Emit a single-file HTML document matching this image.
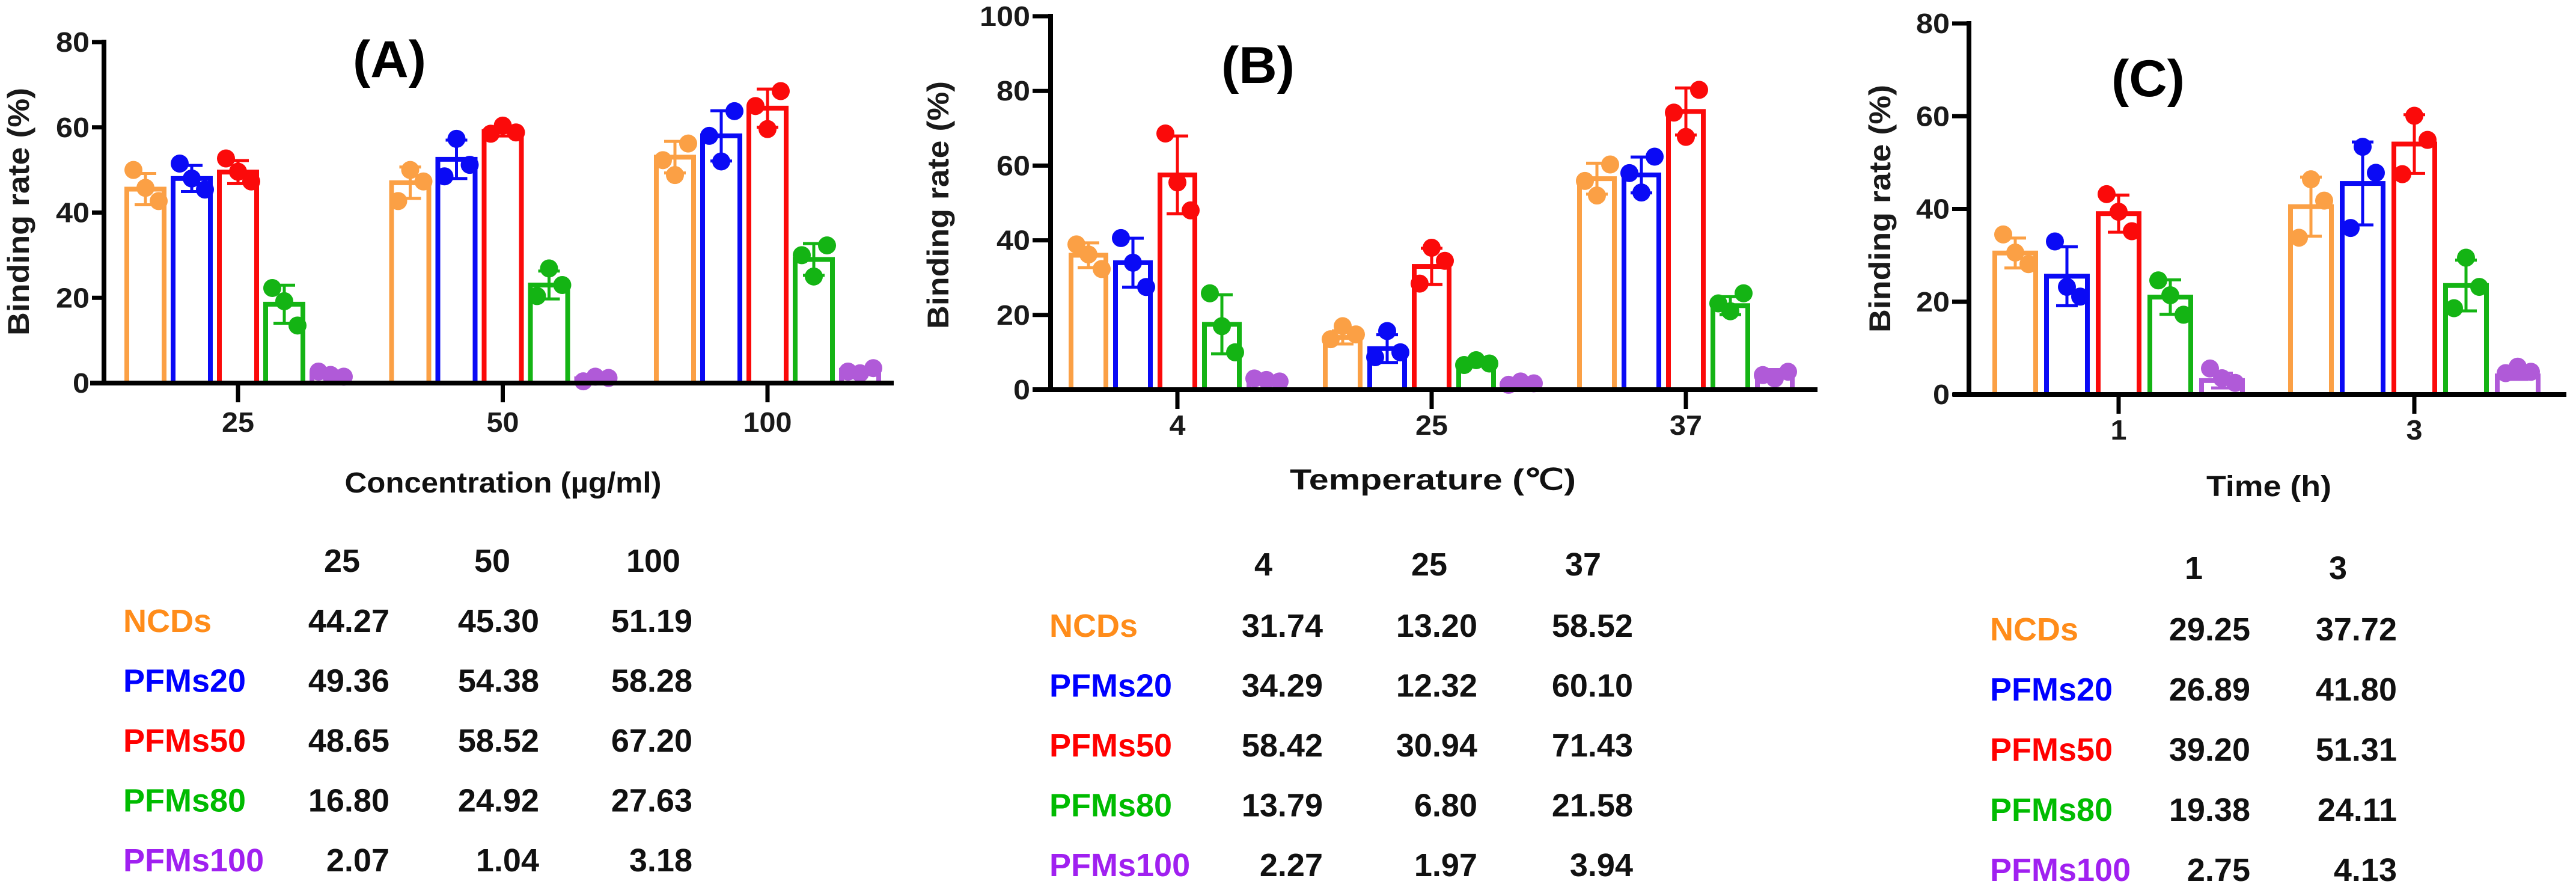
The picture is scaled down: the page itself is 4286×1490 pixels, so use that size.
<!DOCTYPE html>
<html><head><meta charset="utf-8"><style>
html,body{margin:0;padding:0;background:#fff;}
svg{display:block;font-family:"Liberation Sans",sans-serif;font-weight:bold;}
</style></head><body>
<svg id="fig" width="4286" height="1490" viewBox="0 0 4286 1490" xmlns="http://www.w3.org/2000/svg"></svg>
<script>
// ---------- DATA ----------
const seriesNames = ["NCDs","PFMs20","PFMs50","PFMs80","PFMs100"];
const seriesColors = ["#fba045","#0a0af5","#fb0a0a","#14b414","#b05ad8"];
const labelColors = ["#ff8c1a","#0000ff","#ff0000","#00bb00","#a020f0"];

const catsA = ["25","50","100"];
const barsA = [[45.5,47,53],[48,52.5,58],[49.5,59,64.5],[18.5,23,29],[2,1,3]];
const ptsA = [
 [[50,45.8,42.7],[50,47.3,42.7],[56.2,52.3,48.8]],
 [[51.5,48,45.4],[57.3,51.2,48.5],[63.8,58,52]],
 [[52.7,49.6,47.3],[60.4,58.8,58.5],[68.5,65,59.6]],
 [[22.3,19.2,13.5],[26.9,23,20.4],[32.3,30,25]],
 [[2.7,1.9,1.5],[1.5,1.2,0.4],[3.5,2.7,2.3]]];
const ticksA = [0,20,40,60,80];

const catsB = ["4","25","37"];
const barsB = [[36,14,56.5],[34,11,57.5],[57.5,33,74.5],[17.5,7,22.5],[2.5,2,4.5]];
const ptsB = [
 [[38.9,36.2,32.3],[17,14.8,13.5],[60.3,55.9,52]],
 [[40.6,34,27.5],[15.7,10,8.7],[62.4,58,52.8]],
 [[68.6,55.5,48],[38,34.5,28.4],[80.3,74.2,67.7]],
 [[25.8,17,10],[7.9,7,6.6],[25.8,23.1,21]],
 [[3,2.6,2.2],[2.2,1.7,1.3],[4.8,3.9,3]]];
const ticksB = [0,20,40,60,80,100];

const catsC = ["1","3"];
const barsC = [[30.5,40.5],[25.5,45.5],[39,54],[21,23.5],[3,4]];
const ptsC = [
 [[34.5,30.6,28.1],[46.4,41.8,33.8]],
 [[33,23.2,21.1],[53.4,47.8,35.9]],
 [[43.2,39.4,35.2],[60.1,54.9,47.5]],
 [[24.6,21.4,17.2],[29.5,23.2,18.6]],
 [[5.6,3.5,2.5],[6,4.9,4.6]]];
const ticksC = [0,20,40,60,80];

const tableA = [["44.27","45.30","51.19"],["49.36","54.38","58.28"],["48.65","58.52","67.20"],["16.80","24.92","27.63"],["2.07","1.04","3.18"]];
const tableB = [["31.74","13.20","58.52"],["34.29","12.32","60.10"],["58.42","30.94","71.43"],["13.79","6.80","21.58"],["2.27","1.97","3.94"]];
const tableC = [["29.25","37.72"],["26.89","41.80"],["39.20","51.31"],["19.38","24.11"],["2.75","4.13"]];

// ---------- DRAW ----------
const NS="http://www.w3.org/2000/svg";
const svg=document.getElementById('fig');
function mk(tag,attrs,parent){const e=document.createElementNS(NS,tag);for(const k in attrs)e.setAttribute(k,attrs[k]);(parent||svg).appendChild(e);return e;}
function txt(s,attrs,parent){const e=mk('text',attrs,parent);e.textContent=s;return e;}

function drawPanel(P,cats,bars,pts,ticks){
  const g=mk('g',{});
  
  
  const ymax=ticks[ticks.length-1];
  const yS=v=>P.y0-(v/ymax)*(P.y0-P.yTop);
  const xC=i=>P.cx0+i*P.gap;
  // bars
  bars.forEach((vals,s)=>{
    vals.forEach((v,i)=>{
      const cx=xC(i)+(s-2)*P.pitch;
      const sw=8, w=P.barW;
      const r=mk('rect',{x:cx-w/2+sw/2,y:yS(v),width:w-sw,height:Math.max(0,P.y0-yS(v)),fill:'#fff',stroke:seriesColors[s],'stroke-width':sw},g);
      
      
      const p=pts[s][i];
      const mean=p.reduce((a,b)=>a+b,0)/p.length;
      const sd=Math.sqrt(p.reduce((a,b)=>a+(b-mean)*(b-mean),0)/(p.length-1));
      const eb=mk('path',{d:`M${cx} ${yS(v)} V${yS(v+sd)} M${cx-18} ${yS(v+sd)} H${cx+18} M${cx} ${yS(v)} V${yS(Math.max(0,v-sd))} M${cx-18} ${yS(Math.max(0,v-sd))} H${cx+18}`,stroke:seriesColors[s],'stroke-width':5,fill:'none'},g);
      
      
      const offs=[-20,0,22];
      p.forEach((pv,k)=>{
        const c=mk('circle',{cx:cx+offs[(k+i)%3],cy:yS(pv),r:15,fill:seriesColors[s]},g);
        
        
      });
    });
  });
  // axes
  const ax=mk('path',{d:`M${P.ax} ${P.yTop-4} V${P.y0+4}`,stroke:'#000','stroke-width':8,fill:'none'},g);
  
  
  const xa=mk('path',{d:`M${P.xl} ${P.y0} H${P.xr}`,stroke:'#000','stroke-width':8,fill:'none'},g);
  
  
  ticks.forEach(t=>{
    mk('path',{d:`M${P.ax-P.tl} ${yS(t)} H${P.ax}`,stroke:'#000','stroke-width':7},g);
    const s=String(t);
    const lab=txt(s,{x:P.ax-P.tl-4,y:yS(t)+16,'text-anchor':'end','font-size':46,textLength:s.length*28,lengthAdjust:'spacingAndGlyphs',fill:'#1a1a1a'},g);
    
    
  });
  cats.forEach((c,i)=>{
    mk('path',{d:`M${xC(i)} ${P.y0} V${P.y0+32}`,stroke:'#000','stroke-width':7},g);
    const lab=txt(c,{x:xC(i),y:P.tickY+16,'text-anchor':'middle','font-size':46,textLength:c.length*27,lengthAdjust:'spacingAndGlyphs',fill:'#1a1a1a'},g);
    
    
  });
  const yt=txt('Binding rate (%)',{x:0,y:0,transform:`translate(${P.ytx},${P.yty}) rotate(-90)`,'text-anchor':'middle','font-size':50,textLength:412,lengthAdjust:'spacingAndGlyphs',fill:'#1a1a1a'},g);
  
  
  const xt=txt(P.xtitle,{x:P.xtx,y:P.xty+17,'text-anchor':'middle','font-size':48,textLength:P.xtw,lengthAdjust:'spacingAndGlyphs',fill:'#111'},g);
  
  
  const pl=txt('('+P.id.toUpperCase()+')',{x:P.plx,y:P.ply+30,'text-anchor':'middle','font-size':86,textLength:122,lengthAdjust:'spacingAndGlyphs',fill:'#000'},g);
  
  
}

function drawTable(T,heads,rows){
  const g=mk('g',{});
  
  
  heads.forEach((h,j)=>{
    const e=txt(h,{x:T.hx[j],y:T.hy+19,'text-anchor':'middle','font-size':54,fill:'#111'},g);
    
    
  });
  rows.forEach((r,i)=>{
    const y=T.ry0+i*T.rstep+19;
    const l=txt(seriesNames[i],{x:T.lx,y:y,'font-size':54,fill:labelColors[i]},g);
    
    
    r.forEach((v,j)=>{
      const e=txt(v,{x:T.nx[j],y:y,'text-anchor':'end','font-size':54,fill:'#111'},g);
      
      
    });
  });
}

drawPanel({id:'a',ax:173,y0:637,yTop:70,cx0:396,gap:440.5,pitch:77,barW:70,xl:150,xr:1487,tl:20,tickY:702,
  ytx:48,yty:352,xtitle:'Concentration (µg/ml)',xtx:837,xty:802,xtw:527,plx:648,ply:98},catsA,barsA,ptsA,ticksA);
drawPanel({id:'b',ax:1748,y0:648,yTop:27,cx0:1959,gap:423,pitch:74,barW:66,xl:1718,xr:3024,tl:30,tickY:707,
  ytx:1578,yty:341,xtitle:'Temperature (℃)',xtx:2384,xty:797,xtw:476,plx:2093,ply:108},catsB,barsB,ptsB,ticksB);
drawPanel({id:'c',ax:3276,y0:656,yTop:39,cx0:3525,gap:492,pitch:86,barW:76,xl:3249,xr:4270,tl:28,tickY:715,
  ytx:3145,yty:347,xtitle:'Time (h)',xtx:3775,xty:808,xtw:208,plx:3574,ply:130},catsC,barsC,ptsC,ticksC);

drawTable({id:'a',hx:[569,819,1087],hy:932,ry0:1032,rstep:99.5,lx:205,nx:[648,897,1152]},catsA,tableA);
drawTable({id:'b',hx:[2102,2378,2634],hy:938,ry0:1040,rstep:99.5,lx:1746,nx:[2201,2458,2717]},catsB,tableB);
drawTable({id:'c',hx:[3650,3890],hy:944,ry0:1046,rstep:100,lx:3311,nx:[3744,3988]},catsC,tableC);
</script>
</body></html>
